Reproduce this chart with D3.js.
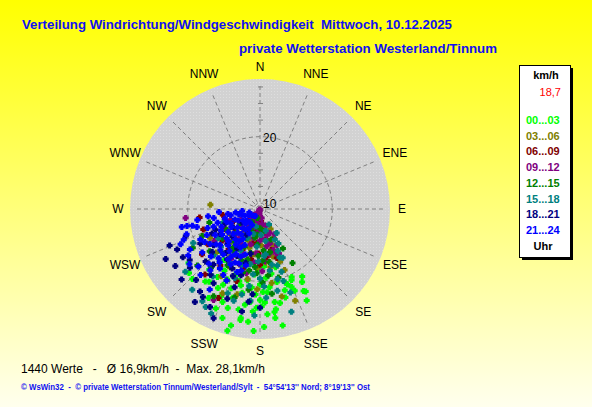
<!DOCTYPE html>
<html>
<head>
<meta charset="utf-8">
<script src="https://cdn.jsdelivr.net/npm/d3@7"></script>
<style>
  body { margin: 0; overflow: hidden; }
  svg { display: block; }
  text { font-family: Arial, "Liberation Sans", sans-serif; white-space: pre; }
</style>
</head>
<body>
<svg id="chart" width="592" height="407"></svg>
<script>
// ---- data: [direction in degrees, speed in km/h] ----
const hourBins = ['00...03', '03...06', '06...09', '09...12', '12...15', '15...18', '18...21', '21...24'];
const binColours = ['#00ff00', '#808000', '#800000', '#800080', '#008000', '#008080', '#000080', '#0000ff'];

const h00 = [[224,23.8],[217,22.8],[210,24.6],[202,24.2],[198,24.8],[192,24.6],[190,25.8],[184,24.6],[182,24.0],[177,23.2],
  [171,23.3],[172,24.8],[172,25.7],[164,23.0],[158,21.8],[156,20.8],[148,21.1],[152,23.1],[153,24.6],[169,27.0],
  [195,28.1],[178,26.9],[189,23.7],[186,23.2],[215,22.5],[197,23.1],[180,22.8],[183,22.0],[178,21.6],[175,21.7],
  [161,20.8],[167,20.4],[233,22.6],[150,21.8],[151,23.3],[171,24.4],[190,26.1],[186,26.2],[155,20.4],[160,21.2],
  [228,23.5],[206,21.8],[194,21.0],[200,19.5],[190,20.0],[185,19.0],[175,19.5],[195,18.2],[210,19.8],[180,20.5],
  [170,19.0],[205,20.8],[215,18.5],[200,21.8],[188,17.2],[220,21.0],[176,17.8],[165,18.2],[192,22.0],[182,18.2],
  [199,26.5],[204,25.5],[176,25.0],[168,23.6],[157,22.5],[194,27.2],[183,27.5],[196,20.4],[186,21.0],[204,23.5],
  [173,21.0],[212,21.2],[179,23.8],[163,21.9],[208,22.6]];
const h03 = [[275,16.6],[166,22.7],[159,23.9],[159,17.6],[171,20.4],[204,23.0],[170,18.0],[215,13.6],[195,15.2],[185,12.8],
  [225,18.4],[205,16.9],[178,14.6],[190,19.8],[232,15.0],[210,20.8],[168,12.0],[200,11.3],[240,17.8],[182,21.2],
  [160,15.0],[220,11.0],[152,12.5],[195,22.4],[188,16.0],[200,14.1],[212,17.6],[174,17.2],[165,16.5],[222,15.8],
  [192,12.0],[183,18.0],[207,19.0],[158,19.0]];
const h06 = [[262,18.3],[261,14.8],[250,18.2],[205,23.9],[161,16.9],[220,13.0],[195,12.5],[185,14.2],[175,11.0],[210,15.5],
  [230,16.5],[200,18.0],[190,16.8],[215,19.5],[240,15.2],[170,13.8],[225,11.2],[205,10.9],[180,17.5],[198,20.5],
  [232,20.2],[212,12.0],[188,11.8],[165,15.5],[245,13.5],[155,14.0],[220,22.0],[182,15.8],[192,14.4],[203,15.8],
  [218,16.8],[227,14.0],[172,16.4],[196,18.4],[208,12.8],[236,18.6],[178,12.2]];
const h09 = [[200,9.3],[190,9.6],[215,9.8],[180,10.2],[205,10.5],[195,10.8],[170,10.5],[225,10.4],[210,11.2],[185,11.5],
  [160,11.8],[200,12.0],[175,12.3],[220,12.1],[190,12.9],[165,13.2],[150,13.5],[205,13.4],[180,13.9],[195,14.6],
  [170,14.8],[155,15.1],[215,14.2],[230,13.0],[240,12.4],[185,15.8],[160,16.2],[200,16.5],[175,17.0],[225,16.0],
  [263,20.4],[207,24.5],[164,14.5],[168,16.0],[178,18.5],[192,19.0],[210,17.8],[235,17.5],[250,13.8],[158,13.0],
  [172,11.4],[188,9.9],[196,9.2],[202,9.7],[182,12.5],[176,13.6],[168,14.1],[162,15.6],[157,16.4],[193,13.6],
  [207,15.2],[220,14.8],[186,17.2],[174,15.8],[215,11.2],[230,11.0]];
const h12 = [[149,18.6],[205,14.0],[190,13.5],[215,16.2],[200,17.3],[185,17.9],[175,15.4],[225,14.1],[195,19.0],[180,12.0],
  [210,18.9],[230,19.0],[170,17.2],[165,19.8],[220,20.6],[205,21.0],[188,21.4],[178,20.2],[198,12.8],[212,11.4],
  [235,12.8],[245,18.7],[160,14.0],[150,16.0],[192,15.9],[218,15.4],[228,21.8],[182,16.2],[196,23.0],[172,22.0],
  [240,20.8],[255,17.0],[208,24.0],[186,13.0],[202,15.2],[194,16.9],[183,18.8],[177,16.9],[173,19.2],[167,15.8],
  [212,16.6],[222,17.8],[232,16.3],[238,15.0],[207,12.2],[196,10.5],[184,14.5],[170,12.5],[190,18.5]];
const h15 = [[154,14.2],[152,15.0],[155,17.2],[161,19.1],[158,17.0],[163,25.3],[205,26.5],[209,26.0],[201,22.7],[192,22.3],
  [243,20.4],[212,25.5],[196,23.5],[186,23.0],[176,22.5],[168,21.7],[166,20.0],[162,20.5],[171,18.5],[180,19.6],
  [200,20.2],[215,21.5],[225,19.0],[190,17.5],[205,16.0],[175,16.2],[185,14.8],[195,13.0],[165,12.5],[150,11.8],
  [230,23.8],[220,25.0],[183,25.2],[210,14.2],[235,16.8],[145,13.5],[170,14.0],[160,22.5],[250,15.0],[198,18.0],
  [188,20.8],[182,17.0],[177,20.8],[173,16.0],[168,17.7],[157,16.0],[163,18.0],[208,18.5],[218,19.0],[203,13.8],
  [193,11.8],[178,13.0],[226,17.3],[186,19.0]];
const h18 = [[244,23.0],[238,22.8],[234,22.2],[230,22.9],[216,24.5],[207,25.7],[222,23.5],[212,22.3],[226,20.5],[240,19.5],
  [232,18.0],[218,17.5],[205,19.0],[198,21.5],[210,16.0],[225,15.0],[245,16.5],[235,14.0],[200,23.5],[190,24.8],
  [215,26.2],[228,25.0],[220,20.0],[208,13.5],[195,17.5],[250,21.0],[236,24.5],[185,22.0],[203,27.0],[248,23.8],
  [242,25.2],[213,24.9],[187,23.2],[180,24.0],[247,14.8],[243,17.2],[238,16.2],[233,12.5],[228,18.8],[223,16.3],
  [217,21.5],[213,18.2],[206,17.0],[202,20.0],[196,19.5],[192,16.0]];
const h21 = [[257,21.2],[257,20.4],[256,19.6],[262,17.0],[257,12.4],[249,14.5],[240,16.9],[243,19.2],[240,21.3],[246,22.2],
  [224,17.7],[219,15.0],[215,12.9],[208,18.6],[219,21.0],[212,23.4],[198,16.3],[252,15.8],[250,17.5],
  [247,13.2],[245,15.5],[244,18.0],[242,12.8],[238,14.2],[236,16.0],[235,18.3],[233,20.0],[231,13.5],[229,15.8],
  [228,17.2],[226,19.4],[225,12.2],[223,14.0],[221,16.4],[220,18.8],[218,11.6],[217,13.8],[216,16.9],[214,19.9],
  [213,14.9],[211,17.4],[210,12.5],[209,20.5],[207,15.6],[205,18.0],[204,13.1],[202,16.8],[200,19.2],
  [194,17.9],[254,19.0],[251,20.8],[248,21.5],[237,22.0],[232,22.6],[227,21.8],[222,22.5],
  [261,14.0],[259,16.2],[264,11.8],[266,15.3],[240,11.0],[230,10.6],[214,10.4],[262,12.8],[258,13.6],[255,14.6],
  [253,12.0],[249,16.6],[246,11.6],[244,14.0],[241,15.8],[239,18.8],[236,12.2],[234,15.0],[231,17.6],[229,11.8],
  [227,14.6],[224,15.9],[223,20.4],[221,13.0],[219,17.9],[217,19.2],[214,15.6],[212,18.1],[210,14.3],[208,16.8],
  [206,11.8],[205,21.0],[203,15.0],[201,17.9],[197,18.8],[260,18.7],[252,10.8]];
const hourSeries = [h00, h03, h06, h09, h12, h15, h18, h21];

const directions = ['N','NNE','NE','ENE','E','ESE','SE','SSE','S','SSW','SW','WSW','W','WNW','NW','NNW'];
const ringValues = [10, 20];
const minorTicks = [12.5, 15, 17.5, 22.5, 25, 27.5];
const currentSpeed = '18,7';
const titleText = 'Verteilung Windrichtung/Windgeschwindigkeit  Mittwoch, 10.12.2025';
const stationText = 'private Wetterstation Westerland/Tinnum';
const summaryText = '1440 Werte   -   \u00d8 16,9km/h  -  Max. 28,1km/h';
const footerText = '\u00a9 WsWin32  -  \u00a9 private Wetterstation Tinnum/Westerland/Sylt  -  54\u00b054\'13\'\' Nord; 8\u00b019\'13\'\' Ost';

// ---- layout ----
const svg = d3.select('#chart');
const cx = 260, cy = 209, discR = 130;
const rScale = d3.scaleLinear().domain([9.1, 29]).range([0, 132]);
const rad = d => d * Math.PI / 180;
const px = (dir, r) => cx + r * Math.sin(rad(dir));
const py = (dir, r) => cy - r * Math.cos(rad(dir));

// background gradient and dotted disc texture
const defs = svg.append('defs');
const grad = defs.append('linearGradient').attr('id', 'bg').attr('x1', 0).attr('y1', 0).attr('x2', 0).attr('y2', 1);
grad.append('stop').attr('offset', '0%').attr('stop-color', '#ffff00');
grad.append('stop').attr('offset', '100%').attr('stop-color', '#ffffee');
const pat = defs.append('pattern').attr('id', 'dots').attr('width', 3).attr('height', 3).attr('patternUnits', 'userSpaceOnUse');
pat.append('rect').attr('width', 3).attr('height', 3).attr('fill', '#d2d2d2');
pat.append('rect').attr('x', 1).attr('y', 1).attr('width', 1).attr('height', 1).attr('fill', '#dedede');

svg.append('rect').attr('width', 592).attr('height', 407).attr('fill', 'url(#bg)');

// titles
svg.append('text').attr('x', 22).attr('y', 29).attr('xml:space', 'preserve')
  .attr('font-size', 13).attr('font-weight', 'bold').attr('fill', '#1010f0')
  .attr('textLength', 430).attr('lengthAdjust', 'spacingAndGlyphs').text(titleText);
svg.append('text').attr('x', 239).attr('y', 53)
  .attr('font-size', 13).attr('font-weight', 'bold').attr('fill', '#1010f0')
  .attr('textLength', 258).attr('lengthAdjust', 'spacingAndGlyphs').text(stationText);

// polar disc
const polar = svg.append('g');
polar.append('circle').attr('cx', cx).attr('cy', cy).attr('r', discR).attr('fill', 'url(#dots)');

const grid = polar.append('g').attr('stroke', '#808080').attr('stroke-dasharray', '4,3').attr('fill', 'none');
grid.selectAll('line.spoke').data(directions).enter().append('line')
  .attr('class', 'spoke')
  .attr('x1', cx).attr('y1', cy)
  .attr('x2', (d, i) => px(i * 22.5, 125))
  .attr('y2', (d, i) => py(i * 22.5, 125));
grid.selectAll('circle.ring').data(ringValues).enter().append('circle')
  .attr('class', 'ring')
  .attr('cx', cx).attr('cy', cy).attr('r', d => rScale(d));
polar.selectAll('line.tick').data(minorTicks).enter().append('line')
  .attr('class', 'tick').attr('stroke', '#808080')
  .attr('x1', cx - 2).attr('x2', cx + 3)
  .attr('y1', d => cy - rScale(d)).attr('y2', d => cy - rScale(d));
polar.selectAll('text.ringlabel').data(ringValues).enter().append('text')
  .attr('class', 'ringlabel')
  .attr('x', cx + 3).attr('y', d => cy - rScale(d) + 5)
  .attr('font-size', 12).attr('fill', '#000').text(d => d);

// direction labels
svg.selectAll('text.dir').data(directions).enter().append('text')
  .attr('class', 'dir')
  .attr('x', (d, i) => px(i * 22.5, i % 4 === 0 ? 142 : 146))
  .attr('y', (d, i) => py(i * 22.5, i % 4 === 0 ? 142 : 146) + 4)
  .attr('text-anchor', 'middle').attr('font-size', 12).attr('fill', '#000')
  .text(d => d);

// points, one group per 3-hour bin, drawn in time order
const marker = 'M-1.5,-3h3v1.5h1.5v3h-1.5v1.5h-3v-1.5h-1.5v-3h1.5z';
hourSeries.forEach((series, i) => {
  polar.append('g').attr('fill', binColours[i])
    .selectAll('path').data(series).enter().append('path')
    .attr('d', marker)
    .attr('transform', d => `translate(${px(d[0], rScale(d[1])).toFixed(1)},${py(d[0], rScale(d[1])).toFixed(1)})`);
});

// legend
const lg = svg.append('g');
lg.append('rect').attr('x', 522).attr('y', 68).attr('width', 51).attr('height', 192).attr('fill', '#000');
lg.append('rect').attr('x', 519.5).attr('y', 65.5).attr('width', 51).attr('height', 192)
  .attr('fill', '#fff').attr('stroke', '#000');
lg.append('text').attr('x', 546).attr('y', 79).attr('text-anchor', 'middle')
  .attr('font-size', 11).attr('font-weight', 'bold').attr('fill', '#000').text('km/h');
lg.append('text').attr('x', 561).attr('y', 96).attr('text-anchor', 'end')
  .attr('font-size', 11).attr('fill', '#ff0000').text(currentSpeed);
lg.selectAll('text.bin').data(hourBins).enter().append('text')
  .attr('class', 'bin')
  .attr('x', 526).attr('y', (d, i) => 124 + i * 15.7)
  .attr('font-size', 11).attr('font-weight', 'bold')
  .attr('fill', (d, i) => binColours[i]).text(d => d);
lg.append('text').attr('x', 543).attr('y', 250).attr('text-anchor', 'middle')
  .attr('font-size', 11).attr('font-weight', 'bold').attr('fill', '#000').text('Uhr');

// summary and footer
svg.append('text').attr('x', 21).attr('y', 373).attr('font-size', 12).attr('fill', '#000')
  .attr('xml:space', 'preserve').text(summaryText);
svg.append('text').attr('x', 21).attr('y', 390).attr('font-size', 8.5).attr('font-weight', 'bold')
  .attr('fill', '#1010f0').attr('xml:space', 'preserve')
  .attr('textLength', 349).attr('lengthAdjust', 'spacingAndGlyphs').text(footerText);
</script>
</body>
</html>
